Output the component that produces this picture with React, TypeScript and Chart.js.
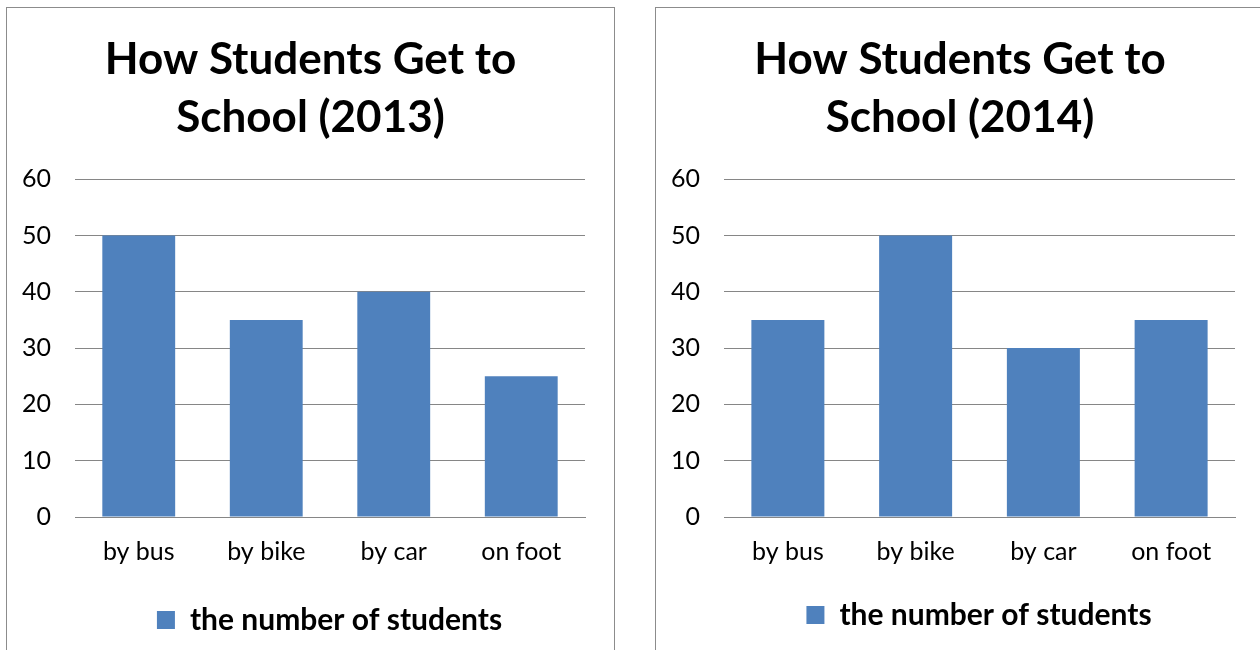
import React, { useEffect, useRef } from "react";
import { Chart, registerables } from "chart.js";

Chart.register(...registerables);

const categories = ["by bus", "by bike", "by car", "on foot"];
const values2013 = [50, 35, 40, 25];
const values2014 = [35, 50, 30, 35];
const title2013 = ["How Students Get to", "School (2013)"];
const title2014 = ["How Students Get to", "School (2014)"];
const seriesLabel = "the number of students";
const yTicks = [0, 10, 20, 30, 40, 50, 60];

const FONT = "Lato, 'Open Sans', sans-serif";
const BAR = "#4F81BD";
const GRID = "#868686";

function BarPanel(props: { title: string[]; values: number[]; padBottom: number; legendPad: number }) {
  const ref = useRef<HTMLCanvasElement | null>(null);
  useEffect(() => {
    if (!ref.current) return;
    const shiftLegend = {
      id: "shiftLegend",
      afterLayout(chart: any) {
        if (chart.legend) {
          chart.legend.left += 19;
          chart.legend.right += 19;
        }
      },
    };
    const chart = new Chart(ref.current, {
      type: "bar",
      data: {
        labels: categories,
        datasets: [
          {
            label: seriesLabel,
            data: props.values,
            backgroundColor: BAR,
            borderWidth: 0,
            categoryPercentage: 1,
            barPercentage: 0.5714,
          },
        ],
      },
      plugins: [shiftLegend],
      options: {
        animation: false,
        responsive: true,
        maintainAspectRatio: false,
        layout: { padding: { left: 0, right: 0, top: 0, bottom: props.padBottom } },
        plugins: {
          tooltip: { enabled: false },
          title: {
            display: true,
            text: props.title,
            color: "#000",
            font: { family: FONT, size: 44, weight: "bold", lineHeight: 1.32 },
            padding: { top: 23, bottom: 32 },
          },
          legend: {
            position: "bottom",
            labels: {
              color: "#000",
              boxWidth: 18,
              boxHeight: 18,
              padding: props.legendPad,
              font: { family: FONT, size: 30, weight: "bold" },
            },
          },
        },
        scales: {
          x: {
            grid: { display: false, drawTicks: false },
            border: { display: true, color: GRID, width: 1 },
            ticks: { color: "#000", padding: 20, font: { family: FONT, size: 25 } },
          },
          y: {
            min: yTicks[0],
            max: yTicks[yTicks.length - 1],
            afterBuildTicks: (scale: any) => {
              scale.ticks = yTicks.map((v) => ({ value: v }));
            },
            afterFit: (scale: any) => {
              scale.width = 68;
            },
            grid: { color: GRID, lineWidth: 1, drawTicks: false },
            border: { display: false },
            ticks: { color: "#000", padding: 24, font: { family: FONT, size: 25 } },
          },
          yRight: {
            position: "right",
            display: true,
            grid: { display: false, drawTicks: false },
            border: { display: false },
            ticks: { display: false },
            afterFit: (scale: any) => {
              scale.width = 29;
            },
          },
        },
      },
    });
    return () => chart.destroy();
  }, []);
  return <canvas ref={ref} />;
}

export default function App() {
  const panelBase: React.CSSProperties = {
    position: "absolute",
    top: 7,
    border: "1px solid #8c8c8c",
    background: "#fff",
    height: 700,
    boxSizing: "border-box",
  };
  return (
    <div style={{ position: "fixed", inset: 0, overflow: "hidden", background: "#fff" }}>
      <div style={{ ...panelBase, left: 6, width: 609 }}>
        <div style={{ position: "absolute", left: 0, top: 0, width: 607, height: 642 }}>
          <BarPanel title={title2013} values={values2013} padBottom={5} legendPad={18} />
        </div>
      </div>
      <div style={{ ...panelBase, left: 655, width: 700 }}>
        <div style={{ position: "absolute", left: 0, top: 0, width: 608, height: 642 }}>
          <BarPanel title={title2014} values={values2014} padBottom={10} legendPad={13} />
        </div>
      </div>
    </div>
  );
}
